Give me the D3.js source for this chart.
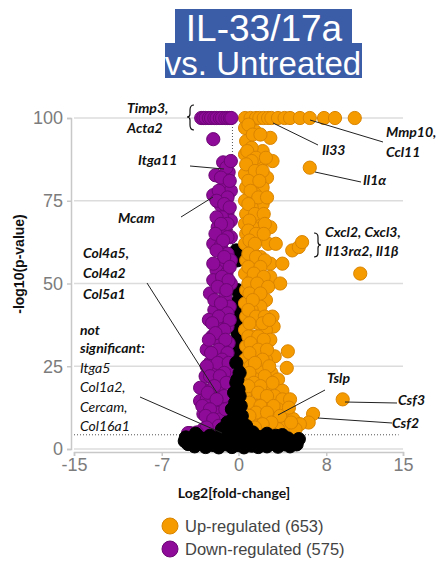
<!DOCTYPE html>
<html>
<head>
<meta charset="utf-8">
<script src="https://cdn.jsdelivr.net/npm/d3@7"></script>
<style>
  body { margin: 0; background: #fff; }
  svg { display: block; }
</style>
</head>
<body>
<div id="chart"></div>
<script>

// Data: [log2 fold-change, -log10 p-value]

var upRegulated = [
  [0.6,100],[1.1,100],[1.6,100],[1.9,100],[2.3,100],[2.7,100],[3.0,100],[3.6,100],[4.2,100],[4.7,100],[5.6,100],[6.5,100],[7.8,100],[8.8,100],[10.6,100],
  [0.6,97],[1.5,96],[2.9,94],[0.7,93],[2.2,90],[1.2,91],[0.6,89],[3.1,87],[2.0,86],[6.5,85],[1.0,85],[0.6,83],[1.8,83],[2.6,82],[1.4,80.5],
  [0.7,79],[2.2,79],[1.5,77],[0.6,75],[2.2,74],[1.2,73],[0.7,71],[1.8,70],[0.6,68],[2.9,67],[1.3,67],[0.7,65],[1.9,64],[2.7,62],[3.4,62],
  [4.9,60],[5.5,61],[5.8,62.5],[0.6,62],[1.2,60],[2.0,58],[0.7,57],[2.9,56],[4.0,56],[1.5,55],[11.1,53],[0.6,53],[2.9,52],[1.2,51],[3.8,50],
  [2.2,49],[0.7,48],[1.6,46],[2.5,45],[0.6,44],[2.0,43],[1.2,42],[3.1,40],[0.7,40],[3.2,37],[1.8,38],[2.5,36],[0.6,36],[1.3,34],[2.9,33],
  [2.1,31],[0.7,31],[4.5,29.5],[1.5,29],[3.3,28],[2.5,27],[0.6,27],[1.1,25],[4.4,24.5],[2.0,24],[3.0,23],[0.7,22],[1.6,21],[3.6,21],[2.6,19],
  [4.0,17.6],[1.2,18],[0.6,16],[2.2,16],[3.3,16],[4.0,15],[4.7,15],[9.5,15],[1.5,13],[2.8,13],[3.6,12],[4.5,10.6],[6.8,10.6],[2.2,10],[5.0,9],
  [3.2,9],[6.4,8],[5.6,7.5],[1.2,8],[4.2,7],[2.8,6.5],[3.6,6],[5.2,6],[0.7,6],[1.9,5.5],
  [0.9,98],[1.3,95],[2.0,95],[0.8,90],[1.6,88],[2.5,88],[1.2,87],[0.7,86],[1.5,84],[2.2,84],[0.9,81],[1.9,81],[1.1,78],[1.8,76],[2.6,76],
  [0.9,74],[1.5,71],[2.3,71],[1.0,69],[2.4,68],[0.9,66],[1.6,65],[2.3,65],[1.0,63],[1.5,62],[0.9,59],[1.6,58],[2.4,57],[0.9,55],[2.0,55],
  [1.4,53],[2.3,52],[0.9,50],[1.7,50],[2.7,49],[1.0,47],[2.0,47],[1.3,45],[0.9,42],[1.6,40],[2.4,40],[1.0,38],[2.2,38],[2.8,39],[0.9,34],
  [1.8,34],[2.3,33],[1.1,32],[1.8,30],[2.6,30],[1.0,29],[2.2,27],[1.5,26],[2.8,25],[1.0,23],[2.4,22],[3.1,20],[1.4,20],[2.0,19],[0.9,19],
  [1.8,17],[2.6,16],[1.0,14],[2.0,13],[3.2,13],[1.6,11],[2.6,11],[3.8,10],[1.0,10],[4.6,12.5],[3.0,8],[2.2,7.5],[4.8,8],[1.5,6.5]
];

var downRegulated = [
  [-3.4,100],[-3.2,100],[-3.0,100],[-2.7,100],[-2.5,100],[-2.2,100],[-2.0,100],[-1.7,100],[-1.5,100],[-1.2,100],[-1.0,100],[-0.8,100],[-0.65,100],
  [-2.3,93.6],[-1.4,86.6],[-0.9,83.6],[-2.1,82.7],[-1.2,80],[-0.7,78],[-2.3,76.7],[-1.6,73.6],[-1.0,71.5],[-0.7,69],[-1.9,67],[-1.2,66],
  [-0.7,64],[-2.3,62],[-1.6,61.5],[-1.0,59],[-0.7,57],[-1.6,56],[-2.0,54],[-1.1,53],[-2.3,51],[-0.7,50],[-1.5,49],[-2.6,47],[-1.2,46],
  [-1.9,44],[-0.8,43],[-2.2,42],[-1.4,41],[-2.7,39],[-1.9,37],[-1.0,37],[-1.5,35],[-2.4,34],[-1.9,33],[-0.9,32],[-2.9,30],[-1.5,30],
  [-2.2,28],[-1.2,27],[-2.6,26],[-1.7,25],[-2.3,23.6],[-1.0,23],[-3.0,22],[-2.0,21],[-1.4,20],[-3.2,18],[-3.5,18.5],[-2.5,18],[-1.8,17],
  [-3.5,14.5],[-2.4,14],[-2.9,15],[-1.5,14],[-3.2,10.6],[-2.0,11],[-2.7,9],[-1.6,9],[-3.2,6],[-4.4,4.8],[-4.6,4.8],[-2.3,6],
  [-1.1,85],[-0.7,87],[-1.6,82],[-0.8,81],[-1.8,78],[-1.0,76],[-2.0,75],[-1.3,74],[-0.8,73],[-1.5,70],[-2.0,70],[-1.0,68],[-1.6,68],
  [-2.1,65],[-1.0,64],[-1.4,63],[-2.0,60],[-1.3,58],[-0.8,55],[-2.3,56],[-1.5,52],[-0.9,51],[-1.9,49],[-1.1,48],[-2.2,45],[-1.6,44],
  [-1.0,41],[-1.8,40],[-2.4,38],[-0.8,39],[-1.3,36],[-2.1,35],[-1.2,33],[-2.7,33],[-1.8,30],[-1.0,29],[-2.5,29],[-1.5,27],[-1.9,26],
  [-0.9,26],[-2.9,25],[-1.3,23],[-2.6,22],[-1.7,22],[-1.1,20],[-2.2,19],[-2.8,17],[-1.3,16],[-2.0,15],[-3.3,13],[-2.6,12],[-1.2,12],
  [-3.0,10],[-2.3,9],[-1.8,7],[-2.9,6.5],[-3.8,5],[-1.2,6]
];

// black spine, mostly hidden between the two coloured columns
var notSignificantSpine = [
  [-0.2,60],[-0.1,57],[-0.1,48],[0.0,45],[-0.1,42],[0.0,39],[0.1,37],[-0.1,35],[0.0,33],[-0.1,31],[0.0,28],[0.1,26]
];

var notSignificant = [
  [-0.2,26],[0.1,23],[-0.1,21],[-0.2,20],[0.0,18],[-0.4,17],[0.1,16],[-0.3,14],[0.2,13],
  [-0.6,12],[-0.1,11],[0.3,10],[-0.5,9],[-1.0,8],[0.2,8],[-0.3,7],[0.7,7],[-1.5,6],[-0.8,5.5],[0.5,6],
  [-4.8,3.5],[-4.6,1.5],[-4.2,2.8],[-4.0,0.8],[-3.7,3.8],[-3.5,1.8],[-3.2,3],[-3.0,0.6],[-2.8,2.2],[-2.6,4],[-2.3,1.2],[-2.1,3],
  [-1.8,0.5],[-1.6,2.4],[-1.4,4.2],[-1.1,1.4],[-0.9,3.2],[-0.6,0.6],[-0.4,2.5],[-0.1,4.5],[0.0,1.2],[0.3,3],[0.5,0.5],[0.7,2.2],
  [1.0,4],[1.2,1],[1.5,2.8],[1.8,0.6],[2.0,3.6],[2.3,1.8],[2.6,0.8],[2.8,3],[3.1,1.6],[3.4,4],[3.6,0.7],[3.9,2.6],[4.2,1.4],
  [4.5,3.2],[4.7,0.8],[5.0,2.2],[5.3,1.4],[5.5,3],[-4.9,2.4],[-3.9,4.6],[-1.2,5],[1.3,5],[2.6,4.6],[4.0,4.2]
];

var xTicks = [-15, -7, 0, 8, 15];
var yTicks = [0, 25, 50, 75, 100];
var fcThresholds = [-0.55, 0.58];
var pThreshold = 4.3;

var legendItems = [
  {label: "Up-regulated (653)", color: "#f59b00", stroke: "#d98400"},
  {label: "Down-regulated (575)", color: "#8e0a98", stroke: "#6d0676"}
];

// Layout

var width = 445, height = 569;
var svg = d3.select("#chart").append("svg")
    .attr("width", width)
    .attr("height", height);

var x = d3.scaleLinear().domain([-15, 15]).range([74, 403]);
var y = d3.scaleLinear().domain([0, 100]).range([449, 118]);

// title

var titleBlue = "#3b5ca6";
svg.append("rect").attr("x", 175).attr("y", 9).attr("width", 177).attr("height", 35).attr("fill", titleBlue);
svg.append("rect").attr("x", 165).attr("y", 43).attr("width", 197).attr("height", 35).attr("fill", titleBlue);
svg.append("text")
    .attr("x", 264).attr("y", 41)
    .attr("text-anchor", "middle")
    .attr("font-family", "Liberation Sans, Arial, sans-serif")
    .attr("font-size", 37)
    .attr("fill", "#fff")
    .text("IL-33/17a");
svg.append("text")
    .attr("x", 263).attr("y", 75)
    .attr("text-anchor", "middle")
    .attr("font-family", "Liberation Sans, Arial, sans-serif")
    .attr("font-size", 33)
    .attr("fill", "#fff")
    .text("vs. Untreated");

// gridlines

svg.append("g").selectAll("line")
    .data(yTicks)
    .join("line")
    .attr("x1", x(-15)).attr("x2", x(15))
    .attr("y1", d => y(d)).attr("y2", d => y(d))
    .attr("stroke", "#dcdcdc").attr("stroke-width", 1.5);

// axes

var yAxis = svg.append("g")
    .attr("transform", "translate(71,0)")
    .call(d3.axisLeft(y).tickValues(yTicks).tickSize(4).tickPadding(4));
var xAxis = svg.append("g")
    .attr("transform", "translate(0,452)")
    .call(d3.axisBottom(x).tickValues(xTicks).tickSize(4).tickPadding(2).tickFormat(d => String(d)));

[yAxis, xAxis].forEach(function(g){
    g.select(".domain").attr("stroke", "#c8c8c8").attr("stroke-width", 1.5);
    g.selectAll(".tick line").attr("stroke", "#c8c8c8").attr("stroke-width", 1.5);
    g.selectAll(".tick text")
        .attr("fill", "#7c7c7c")
        .attr("font-size", 18)
        .attr("font-family", "Liberation Sans, Arial, sans-serif");
});

// threshold lines

svg.append("g").selectAll("line")
    .data(fcThresholds)
    .join("line")
    .attr("x1", d => x(d)).attr("x2", d => x(d))
    .attr("y1", y(100)).attr("y2", y(0))
    .attr("stroke", "#555").attr("stroke-width", 1).attr("stroke-dasharray", "1,2");
svg.append("line")
    .attr("x1", x(-15)).attr("x2", x(14.6))
    .attr("y1", y(pThreshold)).attr("y2", y(pThreshold))
    .attr("stroke", "#555").attr("stroke-width", 1).attr("stroke-dasharray", "1,2");

// points

function drawPoints(data, fill, stroke){
    svg.append("g").selectAll("circle")
        .data(data)
        .join("circle")
        .attr("cx", d => x(d[0]))
        .attr("cy", d => y(d[1]))
        .attr("r", 6.6)
        .attr("fill", fill)
        .attr("stroke", stroke)
        .attr("stroke-width", 1);
}
drawPoints(notSignificantSpine, "#000", "#000");
drawPoints(upRegulated, legendItems[0].color, legendItems[0].stroke);
drawPoints(downRegulated, legendItems[1].color, legendItems[1].stroke);
drawPoints(notSignificant, "#000", "#000");

// annotations

var ann = svg.append("g")
    .attr("font-family", "Lato, sans-serif")
    .attr("font-size", 14)
    .attr("font-style", "italic")
    .attr("fill", "#111");

function label(tx, ty, str, bold){
    ann.append("text").attr("x", tx).attr("y", ty)
        .attr("font-weight", bold === false ? "normal" : "bold")
        .text(str);
}
function leader(x1, y1, x2, y2){
    ann.append("line").attr("x1", x1).attr("y1", y1).attr("x2", x2).attr("y2", y2)
        .attr("stroke", "#222").attr("stroke-width", 1);
}

label(127, 113, "Timp3,");
label(127, 133, "Acta2");
ann.append("path")
    .attr("d", "M194,105 Q190,105 190,110 L190,114 Q190,117 187,117 Q190,117 190,120 L190,125 Q190,130 194,130")
    .attr("fill", "none").attr("stroke", "#111").attr("stroke-width", 1.2);

label(138, 165, "Itga11");
leader(190, 166, 224, 169);
label(118, 223, "Mcam");
leader(181, 217, 213, 197);

label(83, 258, "Col4a5,");
label(83, 278, "Col4a2");
label(83, 299, "Col5a1");
leader(147, 283, 217, 393);

label(80, 335, "not");
label(80, 353, "significant:");
label(80, 373, "Itga5", false);
label(80, 392, "Col1a2,", false);
label(80, 412, "Cercam,", false);
label(80, 431, "Col16a1", false);
leader(140, 397, 222, 433);

label(322, 155, "Il33");
leader(273, 123, 318, 145);
label(386, 137, "Mmp10,");
label(386, 157, "Ccl11");
leader(310, 120, 383, 142);
label(363, 185, "Il1\u03b1");
leader(315, 172, 361, 182);

ann.append("path")
    .attr("d", "M314,233 Q318,233 318,237 L318,242 Q318,245 321,245 Q318,245 318,248 L318,253 Q318,257 314,257")
    .attr("fill", "none").attr("stroke", "#111").attr("stroke-width", 1.2);
label(325, 237, "Cxcl2, Cxcl3,");
label(325, 256, "Il13r\u03b12, Il1\u03b2");

label(327, 383, "Tslp");
leader(325, 390, 278, 415);
label(398, 405, "Csf3");
leader(345, 402, 397, 403);
label(392, 428, "Csf2");
leader(318, 418, 392, 423);

// axis titles

svg.append("text")
    .attr("transform", "translate(24,264) rotate(-90)")
    .attr("text-anchor", "middle")
    .attr("font-family", "Liberation Sans, Arial, sans-serif")
    .attr("font-weight", "bold")
    .attr("font-size", 14)
    .attr("fill", "#111")
    .text("-log10(p-value)");
svg.append("text")
    .attr("x", 234).attr("y", 498)
    .attr("text-anchor", "middle")
    .attr("font-family", "Lato, sans-serif")
    .attr("font-weight", "bold")
    .attr("font-size", 14)
    .attr("fill", "#111")
    .text("Log2[fold-change]");

// legend

var legend = svg.append("g").selectAll("g")
    .data(legendItems)
    .join("g")
    .attr("transform", (d, i) => "translate(170," + (526 + i * 23) + ")");
legend.append("circle")
    .attr("r", 8)
    .attr("fill", d => d.color)
    .attr("stroke", d => d.stroke);
legend.append("text")
    .attr("x", 15).attr("y", 6)
    .attr("font-family", "Liberation Sans, Arial, sans-serif")
    .attr("font-size", 16.5)
    .attr("fill", "#444")
    .text(d => d.label);

</script>
</body>
</html>
